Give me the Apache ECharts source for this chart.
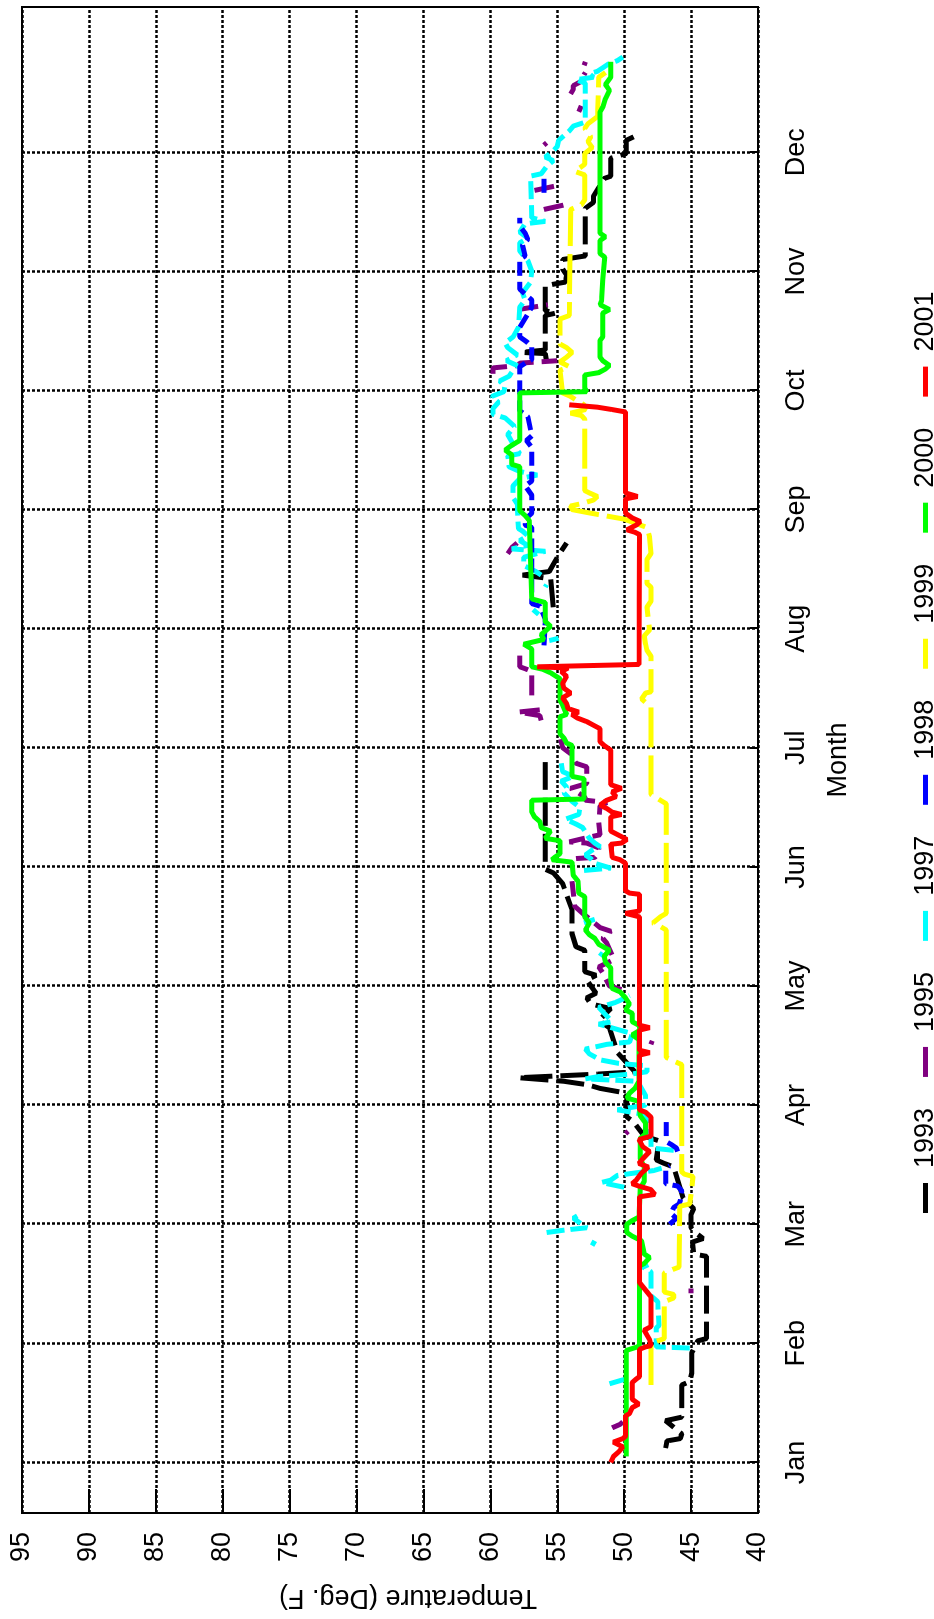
<!DOCTYPE html>
<html>
<head>
<meta charset="utf-8">
<title>Temperature by month</title>
<script src="https://cdn.jsdelivr.net/npm/echarts@6/dist/echarts.min.js"></script>
<style>
  html, body { margin: 0; padding: 0; background: #fff; }
  body { width: 934px; height: 1619px; overflow: hidden; position: relative; }
  /* the plot was printed landscape, so it is drawn 1619 wide and turned a quarter turn */
  #chart {
    position: absolute; left: 0; top: 0;
    width: 1619px; height: 934px;
    transform-origin: 0 0;
    transform: translate(0, 1619px) rotate(-90deg);
  }
</style>
</head>
<body>
<div id="chart"></div>
<script>
const monthNames = ["Jan", "Feb", "Mar", "Apr", "May", "Jun", "Jul", "Aug", "Sep", "Oct", "Nov", "Dec"];
const monthTicks = [1, 2, 3, 4, 5, 6, 7, 8, 9, 10, 11, 12];
const years = ["1993", "1995", "1997", "1998", "1999", "2000", "2001"];

// [month, temperature F]; null = break in the record
const t1993 = [
  [1.12,46.9],[1.18,46.8],[1.20,45.8],[1.24,45.7],[1.35,46.9],[1.38,45.7],[1.65,45.7],[1.68,45.1],
  [1.75,44.95],[1.92,44.95],[2.02,44.5],[2.04,43.85],[2.73,43.85],[2.75,44.8],[2.85,44.9],[2.88,44.1],
  [2.93,44.7],[2.97,45.0],[3.08,45.0],[3.13,44.8],[3.22,45.6],[3.48,46.3],[3.51,47.0],[3.54,47.6],
  [3.70,47.4],[3.74,48.5],[3.86,49.3],[3.90,49.8],[4.10,49.8],[4.14,51.8],[4.17,52.7],[4.20,54.5],
  [4.23,57.9],[4.26,52.0],[4.28,49.2],[4.44,50.5],[4.65,51.1],[4.71,51.9],[4.81,51.0],[4.85,52.5],
  [4.90,52.8],[4.94,52.1],[5.05,52.8],[5.09,52.1],[5.12,52.95],[5.30,52.95],[5.33,53.6],[5.44,53.9],
  [5.64,53.9],[5.86,54.6],[5.95,55.3],[5.98,55.9],[6.88,55.9],null,
  [8.18,55.3],[8.42,55.5],[8.45,57.6],[8.48,55.6],[8.62,54.9],[8.72,54.3],null,
  [10.25,55.8],[10.31,55.9],[10.32,57.7],[10.34,55.9],[10.63,55.9],[10.65,55.1],[10.67,55.9],[10.88,55.9],
  [10.91,54.4],[10.97,54.3],[11.02,54.6],[11.10,54.6],[11.13,52.9],[11.53,52.9],[11.58,52.3],[11.63,52.3],
  [11.78,51.5],[11.80,51.0],[11.95,51.0],[11.99,49.85],[12.10,49.85],[12.13,49.3]
];

const t1995 = [
  [1.29,50.9],[1.32,50.3],[1.34,50.1],null,
  [2.42,45.0],[2.46,45.0],null,
  [3.76,49.9],[3.78,49.7],null,
  [4.51,48.0],[4.54,47.9],null,
  [4.97,50.2],[5.00,51.1],[5.11,51.6],[5.16,51.9],[5.22,50.8],[5.26,50.9],[5.36,51.3],[5.40,51.6],
  [5.46,51.0],[5.49,51.8],[5.61,53.1],[5.67,53.7],[5.88,53.9],null,
  [6.07,53.6],[6.08,52.2],[6.12,51.9],[6.16,51.9],[6.20,52.8],[6.21,54.1],[6.24,53.0],[6.27,51.8],
  [6.38,51.9],[6.51,51.8],[6.54,51.3],[6.56,52.9],[6.58,52.9],[6.62,53.4],[6.66,54.0],[6.70,52.8],
  [6.84,52.8],[6.87,53.6],[6.95,54.0],[7.00,54.6],[7.10,54.8],null,
  [7.23,56.2],[7.27,56.3],[7.30,57.9],[7.32,56.2],[7.34,56.1],null,
  [7.44,56.9],[7.64,56.9],[7.66,57.3],[7.68,57.8],[7.79,57.8],null,
  [8.63,58.7],[8.68,58.4],[8.72,58.0],null,
  [10.14,59.8],[10.19,59.8],[10.21,57.9],[10.23,57.8],[10.25,55.0],null,
  [10.68,57.9],[10.72,55.7],null,
  [11.52,56.0],[11.56,54.4],null,
  [11.68,56.7],[11.72,55.0],null,
  [12.06,56.0],[12.08,55.8],null,
  [12.34,53.4],[12.39,53.2],null,
  [12.49,54.0],[12.53,53.8],[12.56,53.8],[12.59,53.3],null,
  [12.65,53.0],[12.67,52.9],null,
  [12.73,53.0],[12.76,52.9]
];

const t1997 = [
  [1.66,51.1],[1.69,50.2],[1.71,49.4],null,
  [1.96,45.1],[1.97,47.6],[2.13,47.6],[2.15,47.4],[2.35,47.5],[2.40,48.0],[2.60,48.0],[2.64,48.6],[2.66,48.2],null,
  [2.82,52.4],[2.86,52.2],null,
  [2.93,55.8],[2.95,54.5],[2.97,52.8],[3.01,53.3],[3.05,53.8],[3.07,53.5],null,
  [3.31,50.0],[3.35,51.7],[3.37,51.0],[3.41,50.5],[3.43,49.2],[3.45,47.8],[3.47,47.2],null,
  [3.62,46.3],[3.64,48.0],[3.71,48.0],[3.92,48.4],[3.96,50.5],[3.98,49.5],[4.00,48.4],[4.08,48.4],
  [4.20,49.0],[4.22,52.9],[4.24,51.9],[4.26,49.5],[4.28,48.3],[4.33,48.3],[4.35,50.4],[4.38,51.8],
  [4.43,52.6],[4.47,52.9],[4.51,51.3],[4.53,49.6],[4.60,49.4],[4.68,51.9],[4.70,50.9],[4.82,51.9],
  [4.86,50.7],[4.88,50.3],[4.92,49.6],null,
  [5.25,51.8],[5.28,51.6],null,
  [5.53,53.0],[5.56,52.2],null,
  [5.97,53.0],[5.99,51.0],[6.03,52.2],[6.07,52.5],[6.10,52.9],[6.14,52.4],[6.17,51.8],[6.20,52.2],
  [6.24,52.6],[6.33,53.1],[6.36,53.6],[6.40,54.4],[6.44,53.4],[6.50,53.3],[6.55,53.9],[6.62,54.5],
  [6.67,54.3],[6.72,54.7],[6.76,53.8],[6.80,54.6],[6.87,54.7],null,
  [7.90,55.6],[7.92,54.9],null,
  [8.12,56.4],[8.16,56.8],null,
  [8.35,55.9],[8.37,55.8],null,
  [8.45,56.2],[8.48,56.6],[8.53,57.5],[8.60,57.5],[8.65,55.9],[8.67,58.4],[8.70,57.2],[8.74,57.8],
  [8.78,57.2],[8.82,57.6],[8.84,57.9],[9.05,58.0],[9.10,58.3],[9.20,58.3],[9.26,57.8],[9.29,56.5],
  [9.32,57.8],[9.36,58.6],[9.45,58.7],[9.47,57.8],[9.55,58.3],[9.63,58.7],[9.70,58.2],[9.77,58.9],
  [9.80,59.8],[9.85,59.8],[9.90,59.4],[9.95,59.9],[9.99,59.0],[10.04,58.9],[10.08,59.3],[10.12,58.6],
  [10.17,58.3],[10.21,58.0],[10.25,58.8],[10.30,58.0],[10.36,58.7],[10.40,58.9],[10.45,58.3],[10.53,57.9],
  [10.70,57.8],[10.76,57.4],[10.82,57.6],[10.91,57.0],[11.00,56.9],[11.09,57.2],[11.17,57.8],[11.24,57.8],
  [11.28,57.2],[11.33,57.8],[11.40,57.4],[11.42,55.9],[11.45,56.9],[11.80,57.0],[11.82,56.2],[11.88,55.8],
  [11.93,55.3],[11.96,55.9],[12.00,55.4],[12.05,55.0],[12.10,54.9],[12.14,54.5],[12.18,54.1],[12.22,53.8],
  [12.25,53.0],[12.28,52.9],[12.58,52.9],[12.61,53.6],[12.63,52.3],[12.66,52.6],[12.68,52.0],[12.71,51.6],
  [12.74,51.2],[12.77,50.5],[12.80,50.1]
];

const t1998 = [
  [3.00,46.6],[3.05,46.1],[3.09,46.5],[3.14,46.3],[3.17,45.9],[3.20,45.8],[3.28,45.7],[3.32,46.0],
  [3.34,46.9],[3.47,46.9],[3.49,46.6],null,
  [3.61,46.0],[3.64,46.1],[3.67,46.5],[3.69,46.8],null,
  [3.74,46.85],[3.89,46.85],null,
  [7.86,56.0],[8.05,55.9],[8.08,55.9],[8.19,56.3],[8.21,56.9],[8.85,56.9],[8.87,57.4],[8.92,57.4],
  [8.97,56.9],[9.12,56.9],[9.20,57.4],[9.24,56.9],[9.52,56.9],[9.58,57.3],[9.62,56.9],[9.78,57.2],
  [9.83,57.8],[10.20,57.8],[10.23,57.4],[10.26,56.9],[10.37,56.9],[10.41,57.3],[10.45,57.8],[10.53,57.8],
  [10.70,56.9],[10.76,56.9],[10.80,57.3],[10.85,57.8],[11.10,57.8],[11.13,57.4],[11.22,57.6],[11.27,57.2],
  [11.32,57.4],[11.38,57.8],[11.45,57.8],null,
  [11.66,56.0],[11.78,56.0]
];

const t1999 = [
  [1.65,48.0],[2.00,48.0],[2.02,47.5],[2.04,47.0],[2.35,47.0],[2.38,46.3],[2.41,46.3],[2.43,47.0],
  [2.59,47.0],[2.61,46.6],[2.64,45.9],[3.15,45.85],[3.17,45.1],[3.40,44.85],[3.42,45.5],[3.44,45.7],
  [4.34,45.7],[4.36,46.1],[4.40,46.85],[5.47,46.85],[5.50,47.3],[5.53,47.85],[5.58,47.3],[5.61,46.85],
  [6.53,46.85],[6.56,47.3],[6.61,48.0],[7.34,48.0],[7.37,48.3],[7.41,48.7],[7.46,48.4],[7.47,48.0],
  [7.77,48.0],[7.82,48.3],[7.87,48.4],[7.94,48.5],[7.99,48.1],[8.18,48.3],[8.23,48.0],[8.35,48.0],
  [8.38,48.3],[8.58,48.3],[8.63,48.0],[8.77,48.1],[8.85,48.3],[8.92,50.0],[8.95,51.5],[8.97,52.5],
  [9.00,53.9],[9.03,54.0],[9.05,53.2],[9.08,52.3],[9.11,52.0],[9.14,52.6],[9.16,52.95],[9.76,52.95],
  [9.79,53.2],[9.81,54.0],[9.84,52.9],[9.88,53.0],[9.92,53.6],[9.95,54.0],[9.98,54.6],[10.17,54.8],
  [10.20,54.1],[10.24,54.8],[10.28,54.3],[10.32,53.9],[10.36,54.3],[10.39,54.8],[10.60,54.8],[10.63,54.1],
  [11.52,54.0],[11.56,53.2],[11.60,52.95],[11.81,52.95],[11.84,53.7],[11.87,53.3],[11.90,52.95],[11.99,52.95],
  [12.04,52.4],[12.09,52.7],[12.13,52.5],[12.20,52.95],[12.24,52.7],[12.30,52.0],[12.63,51.9],[12.67,51.4]
];

const t2000 = [
  [1.05,49.85],[1.94,49.85],[1.97,49.0],[1.99,48.85],[2.65,48.85],[2.67,48.5],[2.72,48.1],[2.75,48.5],
  [2.86,48.7],[2.90,49.4],[2.93,49.8],[3.00,49.8],[3.03,49.4],[3.06,48.9],[3.30,48.8],[3.36,48.5],
  [3.48,48.5],[3.55,48.8],[3.72,48.8],[3.76,48.4],[3.85,48.4],[3.91,48.8],[4.03,48.9],[4.06,49.8],
  [4.10,49.6],[4.14,49.2],[4.20,48.9],[4.55,48.9],[4.59,49.4],[4.63,48.8],[4.67,48.9],[4.70,49.4],
  [4.77,49.4],[4.80,49.9],[4.85,49.6],[4.90,49.9],[4.95,50.3],[4.98,50.9],[5.05,51.0],[5.15,51.0],
  [5.20,51.4],[5.25,51.5],[5.30,51.1],[5.35,51.9],[5.40,52.2],[5.43,52.6],[5.47,52.9],[5.53,52.6],
  [5.58,52.95],[5.75,52.95],[5.78,53.4],[5.88,53.45],[5.93,53.8],[6.04,53.9],[6.06,55.4],[6.08,55.2],
  [6.11,54.8],[6.22,54.8],[6.24,55.9],[6.30,55.5],[6.33,56.2],[6.38,56.3],[6.42,56.7],[6.46,56.9],
  [6.56,56.9],[6.57,53.0],[6.74,53.0],[6.76,53.9],[7.02,53.9],[7.04,54.3],[7.08,54.5],[7.12,54.8],
  [7.26,54.8],[7.28,54.3],[7.36,54.6],[7.40,54.8],[7.58,54.8],[7.63,55.5],[7.66,56.1],[7.68,56.9],
  [7.83,56.9],[7.87,57.5],[7.91,56.0],[7.95,56.2],[8.02,55.5],[8.06,55.9],[8.22,55.9],[8.25,56.9],
  [8.91,57.1],[8.95,57.4],[8.99,57.8],[9.36,57.8],[9.38,58.4],[9.46,58.4],[9.50,58.9],[9.54,58.4],
  [9.58,57.8],[9.98,57.8],[9.99,52.8],[10.02,52.95],[10.13,52.95],[10.15,51.9],[10.18,51.4],[10.21,51.1],
  [10.25,51.6],[10.28,51.8],[10.42,51.8],[10.45,51.6],[10.65,51.6],[10.68,51.1],[10.72,51.8],[10.75,51.7],
  [10.93,51.6],[11.12,51.45],[11.15,51.8],[11.26,51.8],[11.29,51.4],[11.32,51.8],[12.34,51.8],[12.38,51.6],
  [12.45,51.4],[12.52,51.1],[12.57,51.4],[12.63,51.0],[12.76,51.0]
];

const t2001 = [
  [1.00,51.0],[1.05,50.8],[1.09,50.4],[1.13,50.1],[1.17,50.8],[1.20,50.1],[1.22,49.9],[1.39,49.9],
  [1.41,49.6],[1.46,49.4],[1.49,48.9],[1.53,49.4],[1.67,49.4],[1.70,49.1],[1.72,48.85],[1.95,48.85],
  [1.97,48.4],[1.98,48.0],[2.03,48.1],[2.07,48.3],[2.11,48.5],[2.14,48.0],[2.39,48.0],[2.51,48.85],
  [3.23,48.85],[3.25,47.7],[3.29,48.0],[3.32,48.9],[3.34,49.4],[3.37,49.1],[3.43,48.7],[3.48,48.2],
  [3.51,48.9],[3.55,48.6],[3.61,48.1],[3.65,48.6],[3.71,48.9],[3.74,48.0],[3.90,48.0],[3.94,48.4],
  [3.96,48.85],[4.42,48.85],[4.44,48.1],[4.46,48.85],[4.63,48.85],[4.65,48.1],[4.67,48.85],[5.58,48.85],
  [5.61,49.9],[5.63,48.85],[5.77,48.85],[5.78,49.6],[5.80,49.9],[6.03,49.9],[6.06,50.3],[6.08,50.9],
  [6.19,51.0],[6.20,50.2],[6.23,49.8],[6.26,50.3],[6.30,51.0],[6.42,51.0],[6.44,50.2],[6.46,50.9],
  [6.49,51.3],[6.52,51.8],[6.56,51.3],[6.59,50.6],[6.63,50.9],[6.66,50.2],[6.69,51.0],[6.98,51.0],
  [7.02,51.5],[7.05,51.8],[7.16,51.8],[7.19,52.3],[7.22,52.8],[7.25,53.5],[7.28,53.9],[7.30,53.4],
  [7.33,54.2],[7.37,54.3],[7.42,54.6],[7.46,54.0],[7.50,54.5],[7.54,54.6],[7.60,54.3],[7.64,54.7],
  [7.67,54.2],[7.68,56.5],[7.70,48.9],[8.79,48.85],[8.81,49.2],[8.83,49.8],[8.87,49.1],[8.90,48.8],
  [8.93,49.4],[8.97,49.9],[9.09,49.9],[9.11,49.0],[9.14,49.9],[9.82,49.9],[9.84,50.9],[9.86,52.0],
  [9.88,54.1]
];

const yearData = [t1993, t1995, t1997, t1998, t1999, t2000, t2001];

const fontFamily = '"Liberation Sans", Arial, Helvetica, sans-serif';
const lineColors = ["#000000", "#800080", "#00ffff", "#0000ff", "#ffff00", "#00ff00", "#ff0000"];
const lineDashes = [[28, 8], [20, 8], [18, 6], [14, 6], [40, 8], "solid", "solid"];

const chart = echarts.init(document.getElementById("chart"));

const series = years.map((name, i) => ({
  name: name,
  type: "line",
  data: yearData[i].map((p) => (p === null ? ["-", "-"] : p)),
  showSymbol: false,
  symbol: "none",
  connectNulls: false,
  itemStyle: { color: lineColors[i] },
  lineStyle: { color: lineColors[i], width: 5, type: lineDashes[i] },
  emphasis: { disabled: true },
  z: 2 + i,
}));

// gnuplot-style dotted grid
const gridLine = { color: "#000", width: 2.5, type: [3, 2] };

const option = {
  animation: false,
  textStyle: { fontFamily: fontFamily, color: "#000" },
  grid: {
    left: 106, right: 7, top: 22, bottom: 176,
    show: true, borderColor: "#000", borderWidth: 2,
  },
  legend: {
    data: years,
    left: 401,
    top: 907,
    icon: "rect",
    itemWidth: 30,
    itemHeight: 5,
    itemGap: 31,
    selectedMode: false,
    textStyle: { fontSize: 27, color: "#000", fontFamily: fontFamily, padding: [0, 0, 0, 10] },
  },
  xAxis: {
    type: "value",
    min: 0.575,
    max: 13.22,
    name: "Month",
    nameLocation: "middle",
    nameGap: 67,
    nameTextStyle: { fontSize: 27, color: "#000", fontFamily: fontFamily },
    axisLine: { show: true, lineStyle: { color: "#000", width: 2 } },
    axisTick: { show: true, inside: true, length: 8, customValues: monthTicks, lineStyle: { color: "#000", width: 2 } },
    axisLabel: {
      customValues: monthTicks,
      formatter: (v) => monthNames[Math.round(v) - 1],
      fontSize: 27,
      color: "#000",
      margin: 25,
    },
    splitLine: { show: true, lineStyle: gridLine },
  },
  yAxis: {
    type: "value",
    min: 40,
    max: 95,
    interval: 5,
    axisLine: { show: true, lineStyle: { color: "#000", width: 2 } },
    axisTick: { show: true, inside: true, length: 24, lineStyle: { color: "#000", width: 2 } },
    axisLabel: { fontSize: 27, color: "#000", margin: 19 },
    splitLine: { show: true, lineStyle: gridLine },
  },
  graphic: [
    {
      type: "text",
      x: 22,
      y: 408,
      rotation: Math.PI / 2,
      style: {
        text: "Temperature (Deg. F)",
        font: '27px "Liberation Sans", Arial, Helvetica, sans-serif',
        fill: "#000",
        align: "center",
        verticalAlign: "middle",
      },
    },
  ],
  series: series,
};

chart.setOption(option);
</script>
</body>
</html>
